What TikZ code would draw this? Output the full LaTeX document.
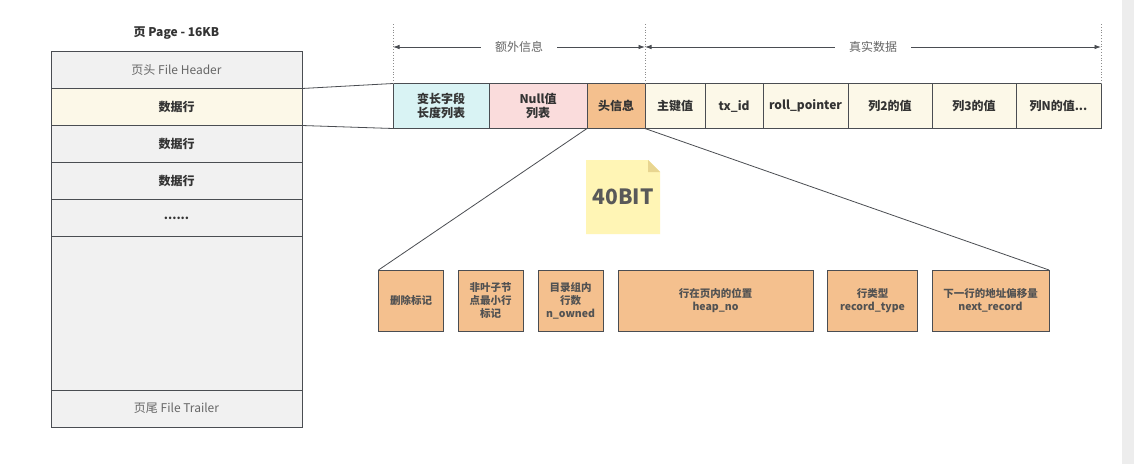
\documentclass[tikz,border=0pt]{standalone}
\usepackage{fontspec}
\setmainfont{Noto Sans CJK SC}
\usetikzlibrary{arrows.meta}
\definecolor{ln}{HTML}{4A4D52}
\definecolor{pagebg}{HTML}{F1F1F1}
\definecolor{cream}{HTML}{FCF8E8}
\definecolor{cyanf}{HTML}{D9F3F4}
\definecolor{pinkf}{HTML}{FADCDC}
\definecolor{orangef}{HTML}{F4C08E}
\definecolor{notef}{HTML}{FFF5B5}
\definecolor{notefold}{HTML}{E8D590}
\definecolor{txt}{HTML}{333333}
\definecolor{txtg}{HTML}{666666}
\begin{document}
\begin{tikzpicture}[x=1pt,y=-1pt,
  cell/.style={draw=ln, line width=0.9pt, inner sep=0pt, outer sep=0pt, align=center, text=txt, font=\fontsize{12}{14.5}\selectfont\bfseries},
  pcell/.style={cell, fill=pagebg, minimum width=251, minimum height=37},
  ocell/.style={cell, fill=orangef, minimum height=61, font=\fontsize{10.5}{13}\selectfont\bfseries, text=txt!85},
  link/.style={draw=ln, line width=0.8pt},
  dim/.style={draw=ln, line width=0.8pt, {Latex[length=6.5pt,width=4.5pt]}-{Latex[length=6.5pt,width=4.5pt]}},
  dimlab/.style={fill=white, inner xsep=14pt, inner ysep=2pt, font=\fontsize{12}{14}\selectfont, text=txtg}
]
\useasboundingbox (0,0) rectangle (1134,464);
\fill[white] (0,0) rectangle (1134,464);
\fill[black!7] (1122,0) rectangle (1134,464);

% page
\node[font=\fontsize{12}{14}\selectfont\bfseries, text=txt] (title) at (176.5,33) {页 Page - 16KB};
\node[pcell, font=\fontsize{12}{14.5}\selectfont, text=txtg] (hdr) at (176.5,70) {页头 File Header};
\node[pcell, fill=cream] (r1) at (176.5,107) {数据行};
\node[pcell] (r2) at (176.5,144) {数据行};
\node[pcell] (r3) at (176.5,181) {数据行};
\node[pcell] (dots) at (176.5,218) {......};
\node[pcell, minimum height=154] (empty) at (176.5,313) {};
\node[pcell, font=\fontsize{12}{14.5}\selectfont, text=txtg] (trl) at (176.5,408.5) {页尾 File Trailer};

% record row
\node[cell, fill=cyanf, minimum width=96, minimum height=45] (var) at (441,106) {变长字段\\长度列表};
\node[cell, fill=pinkf, minimum width=98, minimum height=45] (nul) at (538,106) {Null值\\列表};
\node[cell, fill=orangef, minimum width=58, minimum height=45] (head) at (616,106) {头信息};
\node[cell, fill=cream, minimum width=60, minimum height=45] (pk) at (675,106) {主键值};
\node[cell, fill=cream, minimum width=58, minimum height=45] (tx) at (734,106) {tx\_id};
\node[cell, fill=cream, minimum width=85, minimum height=45] (roll) at (805.5,106) {roll\_pointer};
\node[cell, fill=cream, minimum width=84, minimum height=45] (c2) at (890,106) {列2的值};
\node[cell, fill=cream, minimum width=84, minimum height=45] (c3) at (974,106) {列3的值};
\node[cell, fill=cream, minimum width=85, minimum height=45] (cn) at (1058.5,106) {列N的值...};

% links from page row
\draw[link] (r1.north east) -- (var.north west);
\draw[link] (r1.south east) -- (var.south west);

% dimension lines
\coordinate (d1) at (393,24);
\coordinate (d2) at (645,24);
\coordinate (d3) at (1101,24);
\draw[black!45, dotted, line width=0.8pt] (d1) -- (var.north west);
\draw[black!45, dotted, line width=0.8pt] (d2) -- (head.north east);
\draw[black!45, dotted, line width=0.8pt] (d3) -- (cn.north east);
\coordinate (a1) at (393,47);
\coordinate (a2) at (645,47);
\coordinate (a3) at (1101,47);
\draw[dim] (a1) -- node[dimlab] {额外信息} (a2);
\draw[dim] (a2) -- node[dimlab] {真实数据} (a3);

% header fields
\node[ocell, minimum width=65] (del) at (411,300.5) {删除标记};
\node[ocell, minimum width=65] (minrec) at (490.5,300.5) {非叶子节\\点最小行\\标记};
\node[ocell, minimum width=65] (own) at (570.5,300.5) {目录组内\\行数\\n\_owned};
\node[ocell, minimum width=195] (heap) at (715.5,300.5) {行在页内的位置\\heap\_no};
\node[ocell, minimum width=90] (rtype) at (872.5,300.5) {行类型\\record\_type};
\node[ocell, minimum width=117] (next) at (990.5,300.5) {下一行的地址偏移量\\next\_record};

\draw[link] (head.south west) -- (del.north west);
\draw[link] (head.south east) -- (next.north east);

% note
\coordinate (n1) at (586,160);
\coordinate (n2) at (648,160);
\coordinate (n3) at (660,172);
\coordinate (n4) at (660,234);
\coordinate (n5) at (586,234);
\fill[notef] (n1) -- (n2) -- (n3) -- (n4) -- (n5) -- cycle;
\fill[notefold] (n2) -- (n3) -- (648,172) -- cycle;
\node[font=\fontsize{21}{24}\selectfont\bfseries, text=black!65] (note) at (623,197) {40BIT};
\end{tikzpicture}
\end{document}
